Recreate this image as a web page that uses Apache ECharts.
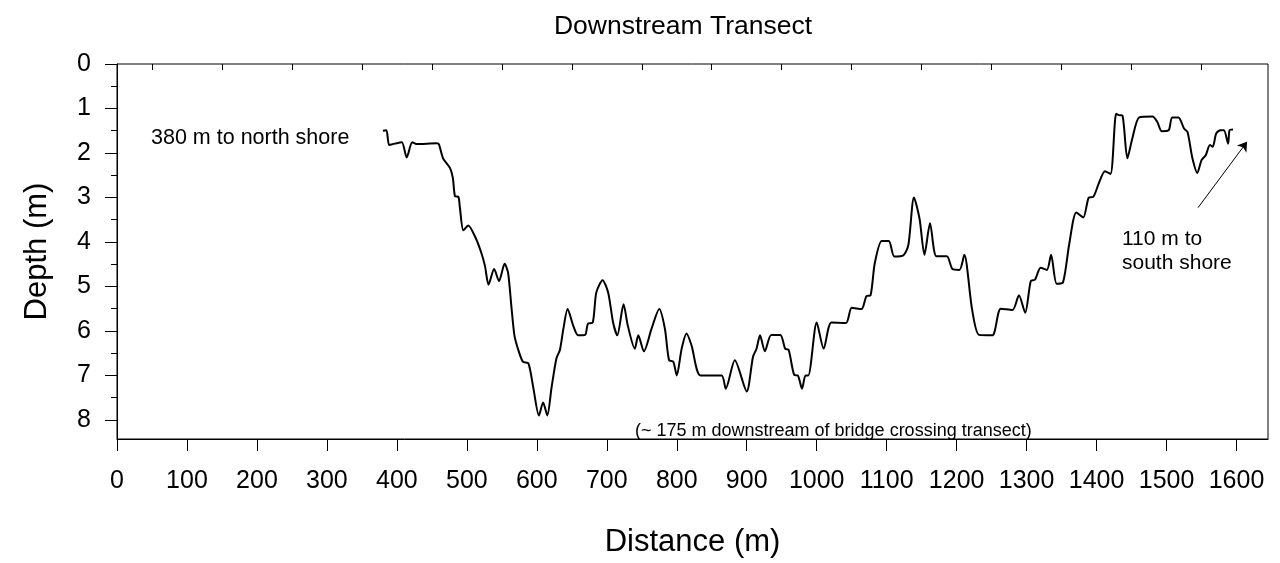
<!DOCTYPE html>
<html>
<head>
<meta charset="utf-8">
<title>Downstream Transect</title>
<script src="https://cdn.jsdelivr.net/npm/echarts@6/dist/echarts.min.js"></script>
<style>
  html, body { margin: 0; padding: 0; background: #fff; }
  #chart { width: 1280px; height: 563px; }
</style>
</head>
<body>
<div id="chart"></div>
<script>
// distance along the transect (m) and depth (m)
var distance = [
  380, 385, 389, 397, 407, 414, 422, 428, 457, 460,
  466, 476, 480, 483, 488, 490, 495, 502, 512, 521,
  526, 531, 539, 546, 554, 559, 564, 568, 573, 580,
  588, 595, 603, 609, 615, 621, 628, 633, 638, 644,
  652, 659, 669, 673, 680, 685, 694, 702, 709, 715,
  724, 730, 740, 745, 753, 764, 775, 783, 789, 795,
  800, 807, 814, 821, 834, 864, 870, 883, 900, 909,
  914, 919, 926, 935, 948, 955, 960, 968, 973, 979,
  984, 988, 1000, 1010, 1021, 1042, 1050, 1064, 1071, 1077,
  1083, 1093, 1103, 1111, 1124, 1131, 1139, 1147, 1154, 1162,
  1171, 1186, 1194, 1204, 1211, 1222, 1232, 1251, 1263, 1280,
  1289, 1298, 1306, 1312, 1320, 1329, 1335, 1343, 1352, 1361,
  1371, 1381, 1389, 1395, 1403, 1412, 1420, 1428, 1432, 1437,
  1444, 1451, 1461, 1480, 1487, 1493, 1503, 1508, 1517, 1525,
  1530, 1537, 1544, 1550, 1556, 1562, 1566, 1571, 1577, 1582,
  1588, 1590, 1595
];
var depth = [
  1.50, 1.49, 1.82, 1.79, 1.76, 2.10, 1.76, 1.80, 1.78, 1.80,
  2.12, 2.34, 2.56, 2.97, 2.99, 3.22, 3.74, 3.63, 3.89, 4.26,
  4.55, 4.96, 4.61, 4.88, 4.49, 4.70, 5.51, 6.10, 6.40, 6.69,
  6.73, 7.28, 7.90, 7.61, 7.90, 7.28, 6.62, 6.43, 5.95, 5.51,
  5.88, 6.10, 6.09, 5.84, 5.81, 5.14, 4.86, 5.14, 5.81, 6.10,
  5.40, 5.88, 6.40, 6.10, 6.46, 5.95, 5.51, 5.95, 6.66, 6.69,
  7.00, 6.40, 6.06, 6.32, 7.00, 7.00, 7.30, 6.66, 7.36, 6.58,
  6.40, 6.10, 6.46, 6.09, 6.09, 6.40, 6.43, 6.99, 7.00, 7.30,
  7.00, 7.00, 5.81, 6.40, 5.81, 5.82, 5.48, 5.51, 5.22, 5.20,
  4.48, 3.98, 3.98, 4.33, 4.30, 4.07, 3.00, 3.48, 4.29, 3.58,
  4.32, 4.32, 4.61, 4.63, 4.29, 5.51, 6.09, 6.10, 5.50, 5.53,
  5.20, 5.59, 4.88, 4.85, 4.58, 4.63, 4.29, 4.94, 4.91, 4.04,
  3.34, 3.45, 3.00, 2.99, 2.69, 2.41, 2.47, 1.12, 1.15, 1.16,
  2.12, 1.68, 1.20, 1.18, 1.31, 1.51, 1.49, 1.20, 1.20, 1.45,
  1.53, 2.12, 2.45, 2.16, 2.05, 1.82, 1.86, 1.56, 1.49, 1.49,
  1.79, 1.49, 1.47
];

var xTicks = [0, 100, 200, 300, 400, 500, 600, 700, 800, 900, 1000, 1100, 1200, 1300, 1400, 1500, 1600];
var xMinorTicks = [50, 150, 250, 350, 450, 550, 650, 750, 850, 950, 1050, 1150, 1250, 1350, 1450, 1550];
var yTicks = [0, 1, 2, 3, 4, 5, 6, 7, 8];
var yMinorTicks = [0.5, 1.5, 2.5, 3.5, 4.5, 5.5, 6.5, 7.5];

// arrow pointing toward the south shore
var arrowFrom = [1545, 3.23];
var arrowTo = [1615, 1.75];

var FONT = 'Liberation Sans, Arial, sans-serif';
var X_MAX = 1645;
var Y_MAX = 8.43;

var chart = echarts.init(document.getElementById('chart'));

var pts = distance.map(function (d, i) { return [d, depth[i]]; });

// plain numbers, no thousands separator
function plain(v) { return String(v); }

var xBase = {
  type: 'value', min: 0, max: X_MAX, gridIndex: 0, position: 'bottom',
  splitLine: { show: false }
};
var yBase = {
  type: 'value', min: 0, max: Y_MAX, inverse: true, gridIndex: 0, position: 'left',
  splitLine: { show: false }
};

chart.setOption({
  animation: false,
  backgroundColor: '#fff',
  title: {
    text: 'Downstream Transect',
    left: 678, top: 8, textAlign: 'center',
    textStyle: { fontFamily: FONT, fontSize: 26.5, fontWeight: 'normal', color: '#000' }
  },
  grid: {
    left: 117, right: 12, top: 64, bottom: 118,
    show: true, borderColor: '#000', borderWidth: 1
  },
  xAxis: [
    Object.assign({}, xBase, {
      name: 'Distance (m)', nameLocation: 'middle', nameGap: 88,
      nameTextStyle: { fontFamily: FONT, fontSize: 31, color: '#000' },
      axisLine: { show: true, onZero: false, lineStyle: { color: '#000', width: 1 } },
      axisTick: { show: true, length: 12, customValues: xTicks, lineStyle: { color: '#000' } },
      axisLabel: { margin: 30, customValues: xTicks, formatter: plain, fontFamily: FONT, fontSize: 25, color: '#000' }
    }),
    Object.assign({}, xBase, {
      axisLine: { show: false },
      axisTick: { show: true, length: 6, customValues: xMinorTicks, lineStyle: { color: '#000' } },
      axisLabel: { show: false }
    })
  ],
  yAxis: [
    Object.assign({}, yBase, {
      name: 'Depth (m)', nameLocation: 'middle', nameGap: 64, nameRotate: 90,
      nameTextStyle: { fontFamily: FONT, fontSize: 31, color: '#000' },
      axisLine: { show: true, onZero: false, lineStyle: { color: '#000', width: 1 } },
      axisTick: { show: true, length: 12, customValues: yTicks, lineStyle: { color: '#000' } },
      axisLabel: { margin: 26, customValues: yTicks, formatter: plain, fontFamily: FONT, fontSize: 25, color: '#000' }
    }),
    Object.assign({}, yBase, {
      axisLine: { show: false },
      axisTick: { show: true, length: 6, customValues: yMinorTicks, lineStyle: { color: '#000' } },
      axisLabel: { show: false }
    })
  ],
  series: [
    {
      type: 'line',
      xAxisIndex: 0, yAxisIndex: 0,
      data: pts,
      smooth: 0.25,
      symbol: 'none',
      lineStyle: { color: '#000', width: 2 },
      markLine: {
        silent: true,
        symbol: ['none', 'arrow'],
        symbolSize: 9,
        label: { show: false },
        lineStyle: { color: '#000', width: 1, type: 'solid' },
        data: [[{ coord: arrowFrom }, { coord: arrowTo }]]
      }
    }
  ],
  graphic: [
    {
      type: 'text', left: 151, top: 127,
      style: { text: '380 m to north shore', font: '21.5px ' + FONT, fill: '#000' }
    },
    {
      type: 'text', left: 1122, top: 227,
      style: { text: '110 m to\nsouth shore', font: '21px ' + FONT, fill: '#000', lineHeight: 24 }
    },
    {
      type: 'text', left: 635, top: 422,
      style: { text: '(~ 175 m downstream of bridge crossing transect)', font: '18px ' + FONT, fill: '#000' }
    }
  ]
});
</script>
</body>
</html>
